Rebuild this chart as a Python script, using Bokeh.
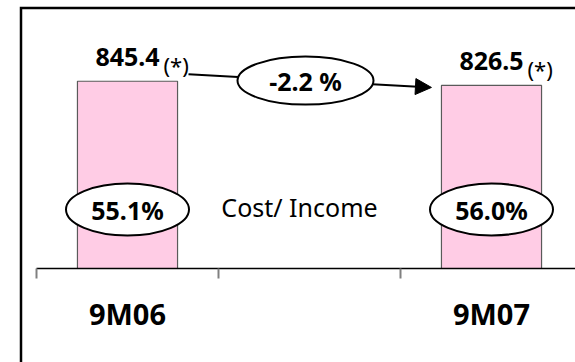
from bokeh.plotting import figure
from bokeh.models import Range1d, LinearAxis, FixedTicker, Arrow, NormalHead
from bokeh.embed import file_html
from bokeh.resources import INLINE
from bokeh.core.properties import value

# Operating costs (EUR m) per period, with the cost/income ratio
categories = ["9M06", "9M07"]
costs = [845.4, 826.5]
cost_labels = ["845.4", "826.5"]
cost_income = ["55.1%", "56.0%"]
change_label = "-2.2 %"
note = "(*)"
ratio_title = "Cost/ Income"

# Layout (pixels)
W, H = 575, 362
BASE_PX = 268          # pixel row of the value axis zero
SLOT_PX = 182          # width of one category slot
X0_PX = 36             # pixel column where the first slot starts
YMAX = 1210
FONT = "Noto Sans"

def px_x(px):
    return (px - X0_PX) / SLOT_PX

def px_y(py):
    return (BASE_PX - py) * YMAX / BASE_PX

def dy(npx):
    return npx * YMAX / BASE_PX

def dx(npx):
    return npx / SLOT_PX

n_slots = 3
xpos = [2 * i + 0.5 for i in range(len(categories))]
bar_w = 0.55

# The plot frame fills the whole canvas; the category axis sits at zero
p = figure(width=W, height=H, output_backend="svg", toolbar_location=None,
           x_axis_type=None, y_axis_type=None,
           x_range=Range1d(px_x(0), px_x(W)), y_range=Range1d(px_y(H), px_y(0)),
           min_border_left=0, min_border_right=0, min_border_top=0,
           min_border_bottom=0)
p.outline_line_color = None
p.background_fill_color = "white"
p.border_fill_color = "white"

# Outer frame: left and top edges
p.line(x=[px_x(20.5), px_x(20.5), px_x(W + 20)],
       y=[px_y(H + 20), px_y(7.5), px_y(7.5)],
       line_color="black", line_width=2.5, line_join="miter")

# Bars
p.vbar(x=xpos, top=costs, width=bar_w, bottom=0,
       fill_color="#FFCCE5", line_color="#5a5a5a", line_width=1.2)

# Value labels and footnote marks
p.text(x=xpos, y=[v + dy(24) for v in costs], text=cost_labels,
       text_align="center", text_baseline="alphabetic",
       text_font=value(FONT), text_font_style="bold", text_font_size="25px",
       text_color="black")
p.text(x=[x + dx(36) for x in xpos], y=[v + dy(16) for v in costs],
       text=[note] * len(costs), text_align="left", text_baseline="alphabetic",
       text_font=value(FONT), text_font_size="22px", text_color="black")

# Change arrow between the periods
x_start, y_start = xpos[0] + dx(61), costs[0] + dy(7)
x_end, y_end = xpos[1] - bar_w / 2 - dx(10), costs[1] - dy(2)
arrow = Arrow(end=NormalHead(size=16, fill_color="black", line_color="black"),
              x_start=x_start, y_start=y_start, x_end=x_end, y_end=y_end,
              line_color="black", line_width=2, level="underlay")
p.add_layout(arrow)

xc = px_x(305)
yc = y_start + (y_end - y_start) * (xc - x_start) / (x_end - x_start)
p.ellipse(x=[xc], y=[yc], width=136, height=48, width_units="screen",
          height_units="screen", fill_color="white", line_color="black",
          line_width=2)
p.text(x=[xc], y=[yc], text=[change_label], text_align="center",
       text_baseline="middle", text_font=value(FONT), text_font_style="bold",
       text_font_size="25px", text_color="black")

# Cost/income ratio ovals
ratio_y = px_y(209)
p.ellipse(x=xpos, y=[ratio_y] * len(xpos), width=123, height=52,
          width_units="screen", height_units="screen", fill_color="white",
          line_color="black", line_width=2)
p.text(x=xpos, y=[ratio_y] * len(xpos), text=cost_income, text_align="center",
       text_baseline="middle", text_font=value(FONT), text_font_style="bold",
       text_font_size="25px", text_color="black")
p.text(x=[(xpos[0] + xpos[1]) / 2 - dx(10)], y=[px_y(206)], text=[ratio_title],
       text_align="center", text_baseline="middle", text_font=value(FONT),
       text_font_size="25px", text_color="black")

# Category axis at zero: boundaries as tick marks, labels at slot centres
xaxis = LinearAxis(ticker=FixedTicker(ticks=xpos,
                                      minor_ticks=list(range(n_slots + 1))),
                   bounds=(0, n_slots), fixed_location=0)
xaxis.major_label_overrides = {x: c for x, c in zip(xpos, categories)}
xaxis.axis_line_color = "black"
xaxis.axis_line_width = 1.5
xaxis.major_tick_line_color = None
xaxis.major_tick_out = 0
xaxis.major_tick_in = 0
xaxis.minor_tick_line_color = "#808080"
xaxis.minor_tick_line_width = 2
xaxis.minor_tick_out = 10
xaxis.minor_tick_in = 0
xaxis.major_label_standoff = 15
xaxis.major_label_text_font = FONT
xaxis.major_label_text_font_style = "bold"
xaxis.major_label_text_font_size = "29px"
xaxis.major_label_text_color = "black"
p.add_layout(xaxis, "below")

open("out.html", "w").write(file_html(p, INLINE))
